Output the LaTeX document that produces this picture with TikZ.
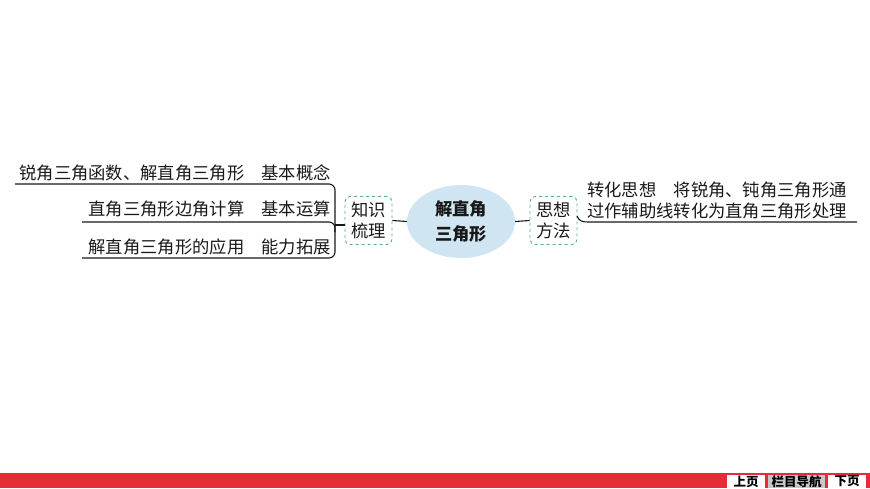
\documentclass[tikz,border=0pt]{standalone}
\usepackage{fontspec}
\setmainfont{Noto Sans CJK SC}
\usetikzlibrary{shapes.geometric}
\definecolor{boxteal}{RGB}{95,165,175}
\definecolor{ellfill}{RGB}{207,230,242}
\definecolor{barred}{RGB}{230,45,55}
\definecolor{btngrey}{RGB}{200,200,200}
\definecolor{ink}{RGB}{25,25,25}
\tikzset{
  x=1pt,y=-1pt,
  txt/.style={inner sep=0pt,text=ink,font=\fontsize{17.3}{21}\selectfont},
  kbox/.style={draw=boxteal,dashed,line width=0.9pt,rounded corners=5pt,minimum width=47pt,minimum height=48pt,inner sep=0pt,align=center,text=ink,font=\fontsize{17.3}{21}\selectfont},
  centre/.style={ellipse,fill=ellfill,minimum width=108pt,minimum height=73pt,inner sep=0pt,align=center,text=ink,font=\fontsize{17.3}{25}\selectfont\bfseries},
  conn/.style={draw=ink,line width=1.1pt},
  btn/.style={inner sep=0pt,minimum height=13pt,text=black,font=\fontsize{12.5}{13}\selectfont\bfseries},
}
\begin{document}
\begin{tikzpicture}
\useasboundingbox (0,0) rectangle (870,488);
% left branch texts
\node[txt,anchor=base east] (t1) at (331,179) {锐角三角函数、解直角三角形\hspace{1em}基本概念};
\node[txt,anchor=base east] (t2) at (331,215.5) {直角三角形边角计算\hspace{1em}基本运算};
\node[txt,anchor=base east] (t3) at (331,253) {解直角三角形的应用\hspace{1em}能力拓展};
% left bracket
\coordinate (a1) at (15,184);
\coordinate (a2) at (335,184);
\coordinate (a3) at (335,258);
\coordinate (a4) at (82,258);
\coordinate (b1) at (82,222);
\coordinate (b2) at (335,222);
\coordinate (b3) at (335,232);
\coordinate (br) at (335,225);
\draw[conn,rounded corners=6pt] (a1) -- (a2) -- (a3) -- (a4);
\draw[conn,rounded corners=6pt] (b1) -- (b2) -- (b3);
% boxes and centre
\node[kbox] (k) at (368.5,220.5) {知识\\梳理};
\node[centre] (c) at (461,221.5) {解直角\\三角形};
\node[kbox] (s) at (553.5,220.5) {思想\\方法};
\draw[conn] (br) -- (br -| k.west);
\draw[conn] (k.east) -- (c.west);
\draw[conn] (c.east) -- (s.east -| s.west);
% right branch
\node[txt,anchor=base west] (r1) at (587,196) {转化思想\hspace{1em}将锐角、钝角三角形通};
\node[txt,anchor=base west] (r2) at (587,217.5) {过作辅助线转化为直角三角形处理};
\coordinate (rs) at (577,216);
\coordinate (rm) at (588,222);
\coordinate (re) at (857,222);
\draw[conn] (rs) .. controls (579,221) and (582,222) .. (rm) -- (re);
% bottom bar
\fill[barred] (0,473) rectangle (870,488);
\node[btn,fill=white,minimum width=38pt] (p) at (746,481.5) {上页};
\node[btn,fill=btngrey,minimum width=57pt] (m) at (796.5,481.5) {栏目导航};
\node[btn,fill=white,minimum width=38pt] (n) at (847,481.5) {下页};
\end{tikzpicture}
\end{document}
